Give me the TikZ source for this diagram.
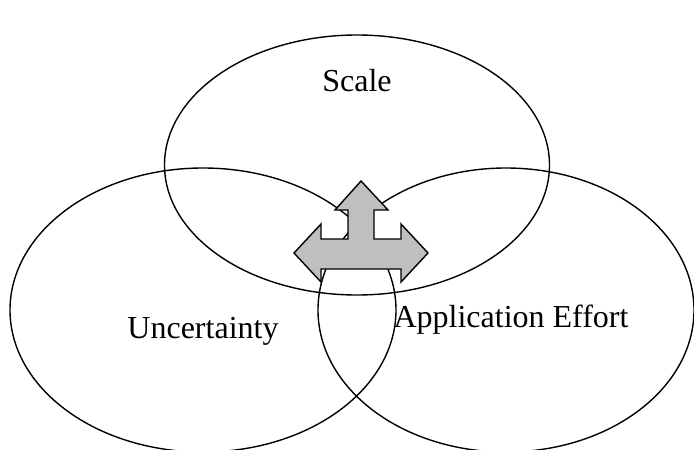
\documentclass[tikz,border=0pt]{standalone}
\usepackage{fontspec}
\setmainfont{Liberation Serif}
\usetikzlibrary{shapes.geometric}
\begin{document}
\begin{tikzpicture}[x=1pt,y=-1pt,
  venn/.style={draw=black,line width=1.4pt,ellipse,inner sep=0pt,fill=none},
  lbl/.style={anchor=base,inner sep=0pt,font=\fontsize{32}{38}\selectfont},
  tarrow/.style={draw=black,line width=1.4pt,fill=black!25,line join=miter}]
\useasboundingbox (0,0) rectangle (694,450);
\clip (0,0) rectangle (694,450);
% three overlapping regions
\node[venn,minimum width=385pt,minimum height=260pt] (scale) at (357,165) {};
\node[venn,minimum width=386pt,minimum height=284pt] (unc) at (203,310) {};
\node[venn,minimum width=376pt,minimum height=284pt] (eff) at (506,310) {};
% labels
\node[lbl] (tscale) at (357,91) {Scale};
\node[lbl] (tunc) at (203,338) {Uncertainty};
\node[lbl] (teff) at (511,327) {Application Effort};
% three-way arrow in the middle
\coordinate (tip) at (361,181);
\draw[tarrow] (tip) -- (388,210) -- (374,210) -- (374,239) -- (401,239) -- (401,224)
  -- (428,253) -- (401,282) -- (401,269) -- (321,269) -- (321,282) -- (294,253)
  -- (321,224) -- (321,239) -- (348,239) -- (348,210) -- (335,210) -- cycle;
\end{tikzpicture}
\end{document}
